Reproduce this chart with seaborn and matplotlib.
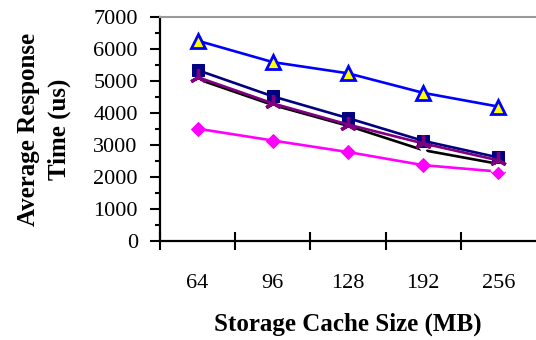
import matplotlib
matplotlib.use("Agg")
import matplotlib.pyplot as plt
import seaborn as sns
import numpy as np
from matplotlib.ticker import FixedLocator, MultipleLocator, NullFormatter

sns.set_theme(style="white")
plt.rcParams['font.family'] = ['Liberation Serif', 'DejaVu Serif']

categories = ["64", "96", "128", "192", "256"]
triangle_vals = [6260, 5590, 5240, 4630, 4200]
square_vals = [5340, 4520, 3840, 3130, 2610]
star_vals = [5120, 4300, 3640, 3050, 2520]
x_vals = [5060, 4250, 3600, 2840, 2410]
diamond_vals = [3510, 3140, 2780, 2370, 2170]
y_ticks = [0, 1000, 2000, 3000, 4000, 5000, 6000, 7000]

fig = plt.figure(figsize=(5.36, 3.40), dpi=100)
ax = fig.add_axes([160/536, 1-241/340, 376/536, 224/340])

pos = np.arange(len(categories))
lw = 1.9

sns.lineplot(x=pos, y=diamond_vals, ax=ax, color="#FF00FF", marker="D",
             markersize=7.5, markeredgecolor="#FF00FF", linewidth=lw)
sns.lineplot(x=pos, y=triangle_vals, ax=ax, color="#0000FF", marker="^",
             markersize=10, markerfacecolor="#FFFF00", markeredgecolor="#0000FF",
             markeredgewidth=2.0, linewidth=lw)
sns.lineplot(x=pos, y=x_vals, ax=ax, color="#000000", marker="x",
             markersize=10, markeredgewidth=2.2, linewidth=lw)
sns.lineplot(x=pos, y=square_vals, ax=ax, color="#000080", marker="s",
             markersize=8, markeredgecolor="#000080", linewidth=lw)
sns.lineplot(x=pos, y=star_vals, ax=ax, color="#800080", marker=(3, 2, 0),
             markersize=12, markeredgecolor="#800080", markeredgewidth=2.4, linewidth=lw)

ax.set_xlim(-0.5, len(categories) - 0.5)
ax.set_ylim(0, 7000)

# x axis: boundary ticks (major), labels at centers (minor)
ax.xaxis.set_major_locator(FixedLocator(np.arange(len(categories)) - 0.5))
ax.xaxis.set_major_formatter(NullFormatter())
ax.set_xticks(pos, categories, minor=True)
ax.tick_params(axis="x", which="major", direction="inout", length=13, width=1.5,
               color="black", bottom=True)
ax.tick_params(axis="x", which="minor", length=0, pad=24, labelsize=16,
               labelcolor="black", bottom=True)

ax.set_yticks(y_ticks)
ax.yaxis.set_minor_locator(MultipleLocator(500))
ax.tick_params(axis="y", which="major", direction="out", length=7, width=1.5,
               labelsize=16, pad=9, color="black", labelcolor="black", left=True)
ax.tick_params(axis="y", which="minor", direction="out", length=3.5, width=1.5,
               color="black", left=True)

for s in ["left", "bottom"]:
    ax.spines[s].set_color("black")
    ax.spines[s].set_linewidth(1.6)
ax.spines["top"].set_color("#999999")
ax.spines["top"].set_linewidth(1.5)
ax.spines["right"].set_visible(False)

ax.set_xlabel("Storage Cache Size (MB)", fontsize=18, fontweight="bold", labelpad=14, color="black")
ax.set_ylabel("Average Response\nTime (us)", fontsize=18, fontweight="bold", labelpad=16,
              color="black", linespacing=1.45)
ax.grid(False)

fig.savefig("out.png", dpi=100)
